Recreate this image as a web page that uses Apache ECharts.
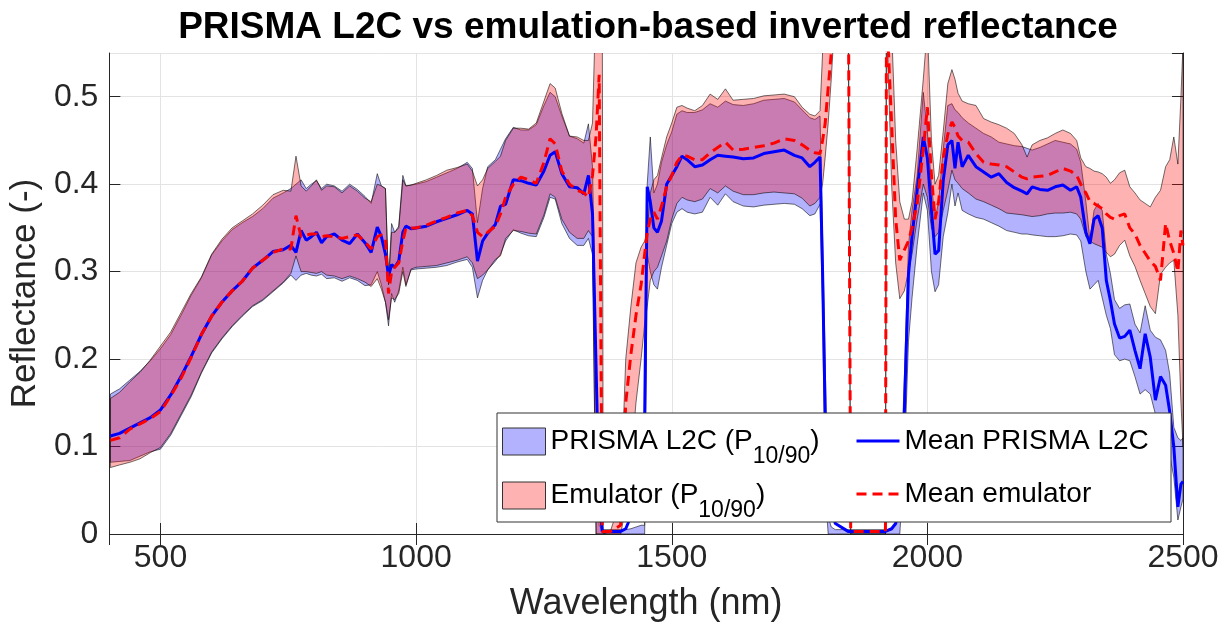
<!DOCTYPE html>
<html>
<head>
<meta charset="utf-8">
<script src="https://cdn.jsdelivr.net/npm/echarts@6/dist/echarts.min.js"></script>
<style>
  html, body { margin: 0; padding: 0; background: #fff; }
  #chart { width: 1231px; height: 635px; }
</style>
</head>
<body>
<div id="chart"></div>
<script>
// wavelengths (nm) shared by every series
const wavelength = [
  402, 420, 440, 460, 480, 500, 520, 540, 560, 580,
  600, 620, 640, 660, 680, 700, 720, 740, 755, 765,
  775, 785, 795, 805, 815, 825, 840, 855, 870, 885,
  900, 912, 924, 932, 940, 946, 952, 958, 966, 974,
  980, 990, 1000, 1020, 1040, 1060, 1080, 1100, 1110, 1120,
  1130, 1140, 1155, 1165, 1175, 1190, 1205, 1220, 1235, 1250,
  1262, 1272, 1285, 1300, 1315, 1328, 1337, 1345, 1352, 1358,
  1364, 1366, 1380, 1400, 1410, 1420, 1430, 1440, 1447, 1452,
  1458, 1465, 1472, 1480, 1490, 1500, 1510, 1520, 1530, 1545,
  1560, 1575, 1590, 1605, 1620, 1640, 1660, 1680, 1700, 1720,
  1740, 1755, 1770, 1780, 1790, 1795, 1800, 1806, 1812, 1820,
  1845, 1850, 1918, 1920, 1930, 1938, 1946, 1955, 1963, 1970,
  1980, 1992, 2000, 2008, 2015, 2022, 2031, 2040, 2048, 2054,
  2060, 2068, 2080, 2095, 2110, 2125, 2140, 2155, 2170, 2185,
  2195, 2205, 2220, 2235, 2250, 2265, 2280, 2292, 2300, 2310,
  2318, 2326, 2334, 2342, 2350, 2358, 2366, 2376, 2386, 2396,
  2406, 2416, 2426, 2436, 2446, 2456, 2466, 2474, 2482, 2490,
  2496, 2500
];

// PRISMA L2C percentiles and mean
const prismaP10 = [
  .082, .083, .084, .089, .094, .097, .113, .135, .157, .184,
  .207, .223, .237, .249, .260, .267, .277, .287, .296, .290,
  .296, .298, .296, .295, .297, .292, .293, .289, .293, .290,
  .284, .285, .300, .285, .265, .238, .275, .265, .278, .305,
  .285, .302, .303, .304, .305, .307, .311, .314, .305, .270,
  .290, .302, .312, .320, .335, .348, .344, .341, .340, .362,
  .385, .383, .355, .338, .330, .330, .338, .320, 0, 0,
  0, 0, 0, 0, 0, 0, 0, 0, 0, .320,
  .300, .285, .280, .305, .330, .355, .368, .372, .368, .366,
  .368, .385, .376, .389, .380, .375, .374, .376, .377, .378,
  .377, .372, .364, .366, .377, .260, .050, 0, 0, 0,
  0, 0, 0, 0, 0, 0, 0, .080, .220, .270,
  .330, .390, .370, .300, .277, .285, .340, .367, .400, .375,
  .390, .370, .366, .362, .360, .356, .352, .347, .345, .343,
  .343, .342, .341, .340, .340, .341, .343, .342, .335, .300,
  .280, .285, .290, .270, .250, .235, .205, .198, .200, .198,
  .180, .160, .165, .160, .137, .125, .110, .090, .065, .016,
  .031, .040
];
const prismaP90 = [
  .160, .166, .176, .186, .198, .212, .228, .250, .273, .293,
  .319, .335, .348, .356, .363, .372, .384, .390, .395, .400,
  .405, .395, .400, .404, .395, .400, .398, .392, .400, .394,
  .386, .378, .412, .398, .395, .290, .355, .345, .352, .410,
  .398, .399, .400, .403, .408, .413, .418, .425, .418, .356,
  .395, .420, .428, .440, .452, .465, .462, .462, .468, .490,
  .505, .500, .478, .455, .452, .447, .469, .420, .200, .010,
  .005, .005, .005, .005, .005, .006, .008, .010, .010, .400,
  .454, .390, .400, .425, .445, .460, .480, .484, .482, .482,
  .485, .492, .488, .495, .491, .490, .492, .496, .497, .498,
  .494, .485, .476, .474, .478, .340, .200, .020, .008, .005,
  .005, .005, .005, .005, .005, .010, .030, .180, .330, .370,
  .410, .505, .460, .400, .360, .380, .440, .490, .492, .485,
  .482, .476, .470, .464, .458, .454, .448, .446, .444, .443,
  .441, .439, .442, .446, .450, .448, .446, .440, .425, .380,
  .336, .370, .378, .370, .320, .298, .268, .258, .262, .263,
  .240, .230, .261, .233, .225, .222, .210, .183, .122, .110,
  .107, .110
];
const prismaMean = [
  .112, .115, .121, .127, .133, .142, .159, .180, .203, .228,
  .249, .265, .278, .289, .304, .313, .323, .325, .330, .322,
  .347, .336, .340, .345, .333, .340, .343, .336, .332, .343,
  .333, .322, .351, .340, .320, .295, .308, .305, .312, .345,
  .352, .349, .350, .352, .357, .361, .365, .370, .366, .312,
  .335, .344, .354, .375, .377, .405, .404, .401, .399, .415,
  .433, .437, .412, .397, .396, .389, .410, .366, .190, .040,
  .003, .003, .003, .003, .006, .020, .050, .090, .130, .397,
  .380, .350, .345, .358, .400, .410, .420, .432, .428, .420,
  .422, .428, .433, .432, .431, .429, .430, .435, .437, .439,
  .433, .430, .420, .425, .431, .300, .140, .060, .030, .012,
  .003, .003, .003, .003, .006, .012, .040, .140, .297, .340,
  .393, .454, .430, .370, .320, .324, .404, .445, .450, .418,
  .448, .420, .433, .420, .414, .408, .412, .402, .396, .392,
  .389, .397, .394, .393, .397, .399, .393, .397, .385, .345,
  .332, .360, .364, .350, .290, .267, .240, .224, .226, .233,
  .210, .189, .229, .202, .153, .180, .170, .140, .100, .031,
  .057, .060
];

// emulator percentiles and mean
const emuP10 = [
  .076, .079, .082, .086, .093, .099, .115, .137, .159, .185,
  .208, .224, .238, .250, .261, .268, .278, .288, .298, .318,
  .300, .300, .299, .298, .300, .296, .295, .292, .295, .292,
  .288, .283, .292, .280, .265, .245, .270, .268, .275, .300,
  .283, .303, .305, .306, .307, .310, .313, .317, .310, .292,
  .296, .302, .314, .318, .338, .347, .346, .344, .343, .365,
  .389, .385, .360, .345, .338, .338, .347, .340, 0, 0,
  0, 0, 0, 0, .030, .080, .150, .200, .240, .260,
  .290, .300, .305, .318, .335, .360, .378, .385, .382, .380,
  .383, .395, .390, .398, .392, .388, .388, .390, .391, .390,
  .389, .384, .375, .378, .385, .400, .430, .470, .520, .600,
  .600, 0, 0, .600, .400, .310, .269, .278, .300, .320,
  .360, .400, .385, .350, .340, .345, .370, .393, .416, .405,
  .401, .395, .390, .383, .380, .376, .372, .367, .366, .365,
  .364, .363, .364, .366, .367, .367, .368, .366, .360, .340,
  .335, .332, .330, .328, .322, .317, .320, .330, .336, .318,
  .306, .290, .275, .260, .252, .297, .305, .310, .313, .250,
  .150, .100
];
const emuP90 = [
  .155, .162, .174, .185, .199, .215, .231, .253, .275, .294,
  .320, .337, .350, .358, .366, .376, .388, .393, .392, .432,
  .398, .392, .398, .405, .393, .398, .397, .390, .398, .392,
  .384, .380, .400, .398, .395, .285, .345, .345, .350, .405,
  .398, .399, .401, .405, .410, .416, .419, .423, .415, .398,
  .405, .418, .426, .432, .450, .464, .464, .463, .470, .495,
  .515, .510, .481, .455, .454, .450, .450, .470, .620, .650,
  .650, 0, .003, .040, .200, .260, .310, .328, .335, .345,
  .390, .405, .410, .430, .454, .470, .488, .490, .487, .484,
  .490, .503, .497, .509, .496, .497, .498, .501, .502, .503,
  .500, .488, .480, .478, .484, .550, .620, .700, .700, .700,
  .700, 0, 0, .700, .580, .450, .380, .360, .360, .380,
  .440, .520, .580, .450, .400, .410, .460, .515, .531, .520,
  .504, .495, .492, .490, .475, .471, .468, .464, .458, .445,
  .431, .445, .450, .453, .458, .462, .458, .450, .430, .420,
  .418, .415, .414, .412, .408, .401, .405, .413, .416, .397,
  .390, .382, .378, .374, .385, .393, .420, .428, .454, .423,
  .500, .560
];
const emuMean = [
  .107, .110, .120, .126, .132, .140, .158, .178, .202, .228,
  .249, .265, .278, .289, .304, .313, .322, .326, .326, .364,
  .340, .342, .343, .343, .340, .341, .340, .338, .340, .342,
  .334, .326, .340, .342, .338, .275, .300, .305, .310, .335,
  .350, .350, .350, .353, .358, .362, .367, .370, .364, .345,
  .340, .345, .352, .366, .385, .400, .408, .405, .401, .425,
  .452, .446, .415, .400, .393, .390, .385, .410, .455, .525,
  .003, .003, .003, .010, .150, .205, .250, .285, .320, .345,
  .360, .368, .360, .375, .397, .410, .425, .433, .432, .428,
  .428, .436, .442, .448, .439, .440, .442, .444, .447, .452,
  .450, .445, .439, .436, .435, .450, .469, .510, .550, .700,
  .700, .003, .003, .600, .470, .360, .313, .325, .335, .350,
  .378, .440, .488, .410, .360, .380, .430, .457, .471, .465,
  .455, .450, .448, .435, .425, .423, .422, .420, .414, .408,
  .406, .408, .409, .410, .414, .418, .415, .410, .400, .390,
  .380, .378, .375, .372, .366, .362, .360, .364, .366, .350,
  .343, .330, .321, .312, .306, .290, .355, .335, .321, .300,
  .347, .330
];

const FONT = '"Liberation Sans", Arial, Helvetica, sans-serif';
const AXIS_COLOR = '#262626';
const BLUE_FILL = 'rgba(0,0,255,0.3)';
const RED_FILL = 'rgba(255,0,0,0.3)';

const pair = (ys) => wavelength.map((w, i) => [w, ys[i]]);

// percentile band: one filled polygon (upper edge forward, lower edge back)
function bandSeries(name, lo, hi, fill) {
  return {
    name, type: 'custom', clip: true, silent: true,
    color: fill,
    data: wavelength.map((w, i) => [w, lo[i], hi[i]]),
    encode: { x: 0, y: [1, 2] },
    renderItem(params, api) {
      if (params.dataIndex !== 0) return null;
      const upper = wavelength.map((w, i) => api.coord([w, hi[i]]));
      const lower = wavelength.map((w, i) => api.coord([w, lo[i]])).reverse();
      const cs = params.coordSys;
      return {
        type: 'group',
        clipPath: { type: 'rect', shape: { x: cs.x, y: cs.y, width: cs.width, height: cs.height } },
        children: [{
          type: 'polygon',
          shape: { points: upper.concat(lower) },
          style: { fill, stroke: 'rgba(0,0,0,0.7)', lineWidth: 0.8 }
        }]
      };
    }
  };
}

const bandLegendText = (name) =>
  `{n|${name.split(' (P')[0]} (P}{s|10/90}{n|)}`;

const chart = echarts.init(document.getElementById('chart'));
chart.setOption({
  animation: false,
  backgroundColor: '#fff',
  textStyle: { fontFamily: FONT },
  title: {
    text: 'PRISMA L2C vs emulation-based inverted reflectance',
    left: 643, top: 4, textAlign: 'center',
    textStyle: { fontFamily: FONT, fontSize: 37, fontWeight: 'bold', color: '#000' }
  },
  grid: { left: 109, right: 48, top: 53, bottom: 101, show: false },
  xAxis: [
    {
      type: 'value', min: 400, max: 2500, position: 'bottom',
      name: 'Wavelength (nm)', nameLocation: 'middle', nameGap: 52,
      nameTextStyle: { fontFamily: FONT, fontSize: 36, color: AXIS_COLOR },
      axisLine: { show: true, lineStyle: { color: AXIS_COLOR, width: 1 } },
      axisTick: { show: true, inside: true, length: 11, lineStyle: { color: AXIS_COLOR } },
      axisLabel: {
        fontFamily: FONT, fontSize: 32, color: AXIS_COLOR, margin: 8,
        showMinLabel: false, formatter: (v) => String(v)
      },
      splitLine: { show: true, lineStyle: { color: '#e3e3e3', width: 1 } }
    },
    {
      type: 'value', min: 400, max: 2500, position: 'top',
      axisLine: { show: true, lineStyle: { color: AXIS_COLOR, width: 1 } },
      axisTick: { show: true, inside: true, length: 11, lineStyle: { color: AXIS_COLOR } },
      axisLabel: { show: false },
      splitLine: { show: false }
    }
  ],
  yAxis: [
    {
      type: 'value', min: 0, max: 0.55, interval: 0.1, position: 'left',
      name: 'Reflectance (-)', nameLocation: 'middle', nameGap: 64,
      nameTextStyle: { fontFamily: FONT, fontSize: 35, color: AXIS_COLOR },
      axisLine: { show: true, lineStyle: { color: AXIS_COLOR, width: 1 } },
      axisTick: { show: true, inside: true, length: 11, lineStyle: { color: AXIS_COLOR } },
      axisLabel: {
        fontFamily: FONT, fontSize: 32, color: AXIS_COLOR, margin: 11,
        showMaxLabel: false
      },
      splitLine: { show: true, lineStyle: { color: '#e3e3e3', width: 1 } }
    },
    {
      type: 'value', min: 0, max: 0.55, interval: 0.1, position: 'right',
      axisLine: { show: true, lineStyle: { color: AXIS_COLOR, width: 1 } },
      axisTick: { show: true, inside: true, length: 11, lineStyle: { color: AXIS_COLOR } },
      axisLabel: { show: false },
      splitLine: { show: false }
    }
  ],
  graphic: [
    {
      type: 'rect', z: 50,
      shape: { x: 497, y: 413, width: 674, height: 109 },
      style: { fill: '#fff', stroke: '#333', lineWidth: 1 }
    }
  ],
  legend: [
    {
      orient: 'vertical', left: 502, top: 415, padding: 0, itemGap: 1,
      itemWidth: 43, itemHeight: 27, selectedMode: false, z: 60,
      data: [
        { name: 'PRISMA L2C (P10/90)', icon: 'rect',
          itemStyle: { color: BLUE_FILL, borderColor: '#333', borderWidth: 1 } },
        { name: 'Emulator (P10/90)', icon: 'rect',
          itemStyle: { color: RED_FILL, borderColor: '#333', borderWidth: 1 } }
      ],
      formatter: bandLegendText,
      textStyle: {
        rich: {
          n: { fontFamily: FONT, fontSize: 28, lineHeight: 28, color: '#000' },
          s: { fontFamily: FONT, fontSize: 23, lineHeight: 23, color: '#000', padding: [30, 0, 0, 0] }
        }
      }
    },
    {
      orient: 'vertical', left: 855, top: 427, padding: 0, itemGap: 25,
      itemWidth: 43, itemHeight: 27, selectedMode: false, z: 60,
      lineStyle: { width: 3 },
      data: [
        { name: 'Mean PRISMA L2C', itemStyle: { opacity: 0 } },
        { name: 'Mean emulator', itemStyle: { opacity: 0 } }
      ],
      textStyle: { fontFamily: FONT, fontSize: 28, lineHeight: 28, color: '#000' }
    }
  ],
  series: [
    bandSeries('PRISMA L2C (P10/90)', prismaP10, prismaP90, BLUE_FILL),
    bandSeries('Emulator (P10/90)', emuP10, emuP90, RED_FILL),
    {
      name: 'Mean PRISMA L2C', type: 'line', data: pair(prismaMean),
      symbol: 'none', color: '#0000ff',
      lineStyle: { color: '#0000ff', width: 3 }
    },
    {
      name: 'Mean emulator', type: 'line', data: pair(emuMean),
      symbol: 'none', color: '#ff0000',
      lineStyle: { color: '#ff0000', width: 3, type: [10, 6] }
    }
  ]
});
</script>
</body>
</html>
